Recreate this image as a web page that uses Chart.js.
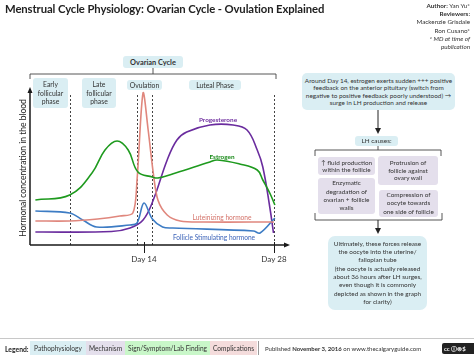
<!DOCTYPE html>
<html><head><meta charset="utf-8">
<script src="https://cdn.jsdelivr.net/npm/chart.js@4"></script>
<style>
body{margin:0;background:#fff;}
#wrap{position:relative;width:474px;height:355px;overflow:hidden;font-family:Lato,"Liberation Sans",sans-serif;color:#222;}
#wrap canvas{position:absolute;left:0;top:0;}
.a{position:absolute;white-space:nowrap;}
.c{position:absolute;white-space:nowrap;transform:translate(-50%,-50%);}
.box{position:absolute;box-sizing:border-box;border-radius:3px;display:flex;align-items:center;justify-content:center;text-align:center;white-space:nowrap;color:#333;}
.blue{background:#daeef3;}
.lav{background:#e4dfec;}
svg{position:absolute;left:0;top:0;}
</style></head>
<body>
<div id="wrap">
<canvas id="c" width="474" height="355"></canvas>
<svg width="474" height="355">
 <defs><marker id="ah" markerWidth="6" markerHeight="6" refX="3" refY="3" orient="auto"><path d="M0,0 L6,3 L0,6 z" fill="#222"/></marker></defs>
 <g stroke="#444" stroke-width="0.9" fill="none">
  <path d="M30,79 L30,74 L276,74 L276,79 M153,74 L153,68"/>
  <path d="M315,156 L315,150 L441,150 L441,156 M378,150 L378,145.5"/>
  <path d="M315,213 L315,220 L442,220 L442,213"/>
 </g>
 <g stroke="#222" stroke-width="1">
  <line x1="378" y1="110" x2="378" y2="131" marker-end="url(#ah)"/>
  <line x1="378" y1="220" x2="378" y2="231" marker-end="url(#ah)"/>
 </g>
 <line x1="0" y1="338.5" x2="474" y2="338.5" stroke="#c8c8c8" stroke-width="1"/>
</svg>

<div class="a" style="left:5px;top:2px;font-size:11.3px;font-weight:bold;color:#222;letter-spacing:-0.1px">Menstrual Cycle Physiology: Ovarian Cycle - Ovulation Explained</div>
<div class="a" style="right:4px;top:2px;font-size:6.3px;line-height:8.2px;text-align:right;color:#333">
<b>Author:</b> Yan Yu*<br><b>Reviewers:</b><br>Mackenzie Grisdale<br>Ron Cusano*<br><i>* MD at time of</i><br><i>publication</i></div>

<div class="c" style="left:23px;top:168px;transform:translate(-50%,-50%) rotate(-90deg);font-size:8.5px;color:#222">Hormonal concentration in the blood</div>

<div class="box blue" style="left:123px;top:56px;width:60px;height:12px;font-size:7.4px;font-weight:bold">Ovarian Cycle</div>
<div class="box blue" style="left:33px;top:78px;width:35px;height:30px;font-size:6.8px;line-height:8.7px">Early<br>follicular<br>phase</div>
<div class="box blue" style="left:82px;top:78px;width:34px;height:30px;font-size:6.8px;line-height:8.7px">Late<br>follicular<br>phase</div>
<div class="box blue" style="left:127px;top:80px;width:35px;height:10px;font-size:6.8px">Ovulation</div>
<div class="box blue" style="left:189px;top:80px;width:52px;height:10px;font-size:6.8px">Luteal Phase</div>

<div class="c" style="left:218px;top:119px;font-size:6.4px;font-weight:bold;color:#7030a0">Progesterone</div>
<div class="c" style="left:222px;top:156px;font-size:6.4px;font-weight:bold;color:#1a8a1a">Estrogen</div>
<div class="c" style="left:222px;top:217px;font-size:6.6px;color:#d4736a">Luteinizing hormone</div>
<div class="c" style="left:214px;top:237px;font-size:6.6px;color:#3a62b8">Follicle Stimulating hormone</div>

<div class="box blue" style="left:302px;top:73px;width:153px;height:37px;font-size:6.4px;line-height:7.2px;border-radius:5px">Around Day 14, estrogen exerts sudden +++ positive<br>feedback on the anterior pituitary (switch from<br>negative to positive feedback poorly understood) →<br>surge in LH production and release</div>
<div class="box blue" style="left:355px;top:136px;width:43px;height:9.5px;font-size:6.4px">LH causes:</div>
<div class="box lav" style="left:318px;top:157px;width:57px;height:18px;font-size:6.4px;line-height:7.4px">↑ fluid production<br>within the follicle</div>
<div class="box lav" style="left:378px;top:156px;width:60px;height:29px;font-size:6.4px;line-height:7.4px">Protrusion of<br>follicle against<br>ovary wall</div>
<div class="box lav" style="left:318px;top:178px;width:57px;height:36px;font-size:6.4px;line-height:8.3px">Enzymatic<br>degradation of<br>ovarian + follicle<br>walls</div>
<div class="box lav" style="left:379px;top:190px;width:59px;height:27px;font-size:6.4px;line-height:8.6px">Compression of<br>oocyte towards<br>one side of follicle</div>
<div class="box blue" style="left:328px;top:236px;width:99px;height:74px;font-size:6.4px;line-height:8.3px;border-radius:7px">Ultimately, these forces release<br>the oocyte into the uterine/<br>fallopian tube<br>(the oocyte is actually released<br>about 36 hours after LH surges,<br>even though it is commonly<br>depicted as shown in the graph<br>for clarity)</div>

<div class="a" style="left:5px;top:343px;font-size:6.8px;font-weight:bold;line-height:12px">Legend:</div>
<div class="box" style="left:30px;top:341px;width:56px;height:14px;font-size:6.6px;background:#daeef3;border-radius:0">Pathophysiology</div>
<div class="box" style="left:86px;top:341px;width:39px;height:14px;font-size:6.6px;background:#e4dfec;border-radius:0">Mechanism</div>
<div class="box" style="left:125px;top:341px;width:85px;height:14px;font-size:6.6px;background:#c9f7c9;border-radius:0">Sign/Symptom/Lab Finding</div>
<div class="box" style="left:210px;top:341px;width:47px;height:14px;font-size:6.6px;background:#f4dcdc;border-radius:0">Complications</div>
<div class="a" style="left:258px;top:341px;width:0;height:14px;border-left:1px solid #999"></div>
<div class="a" style="left:265px;top:343px;font-size:6px;line-height:12px;color:#333">Published <b>November 3, 2016</b> on www.thecalgaryguide.com</div>
<div class="a" style="left:442px;top:343px;width:34px;height:11px;background:#222;border-radius:2px;color:#fff;font-size:6px;line-height:11px;text-align:left;padding-left:2px;font-weight:bold">cc ⓘ⊜$</div>
</div>
<script>
// Days (x) and relative hormone levels (y)
const estrogenDay   = [2.3, 6.0, 8.4, 9.8, 11.1, 12.3, 13.35, 14.9, 15.5, 17.4, 21.1, 21.9, 24.3, 26.2, 26.8, 27.55, 28.1];
const estrogenLevel = [45, 50, 72, 95, 104, 95, 73, 68, 67, 72, 83, 85, 81, 75, 65, 52, 40];
const lhDay   = [2.3, 6.0, 9.0, 11.4, 12.8, 13.25, 13.9, 14.45, 15.0, 15.5, 16.5, 17.9, 20.4, 28.0];
const lhLevel = [24, 24, 26, 29, 32, 65, 152, 115, 72, 45, 30, 24, 23, 23];
const fshDay   = [2.3, 6.0, 7.4, 8.9, 12.5, 13.25, 14.0, 14.9, 16.0, 17.1, 25.8, 26.5, 28.1];
const fshLevel = [34, 32, 25, 18, 20, 22, 42, 26, 18, 17, 14, 12, 27];
const progDay   = [2.3, 10.5, 12.5, 13.9, 15.0, 16.5, 17.55, 18.6, 21.1, 23.6, 25.1, 26.2, 26.8, 27.55, 27.95];
const progLevel = [13, 13.5, 17, 25, 45, 85, 105, 113, 120, 120, 115, 95, 78, 38, 12];
const phaseLines = [6.0, 13.28, 14.86, 28];
const dayTicks = [14, 28];

const pts = (xs, ys) => xs.map((d, i) => ({x: d, y: ys[i]}));

const overlay = {
  id: 'overlay',
  beforeDatasetsDraw(chart) {
    const {ctx, chartArea: a, scales: {x, y}} = chart;
    ctx.save();
    ctx.strokeStyle = '#444'; ctx.lineWidth = 1; ctx.setLineDash([2, 2]);
    phaseLines.forEach(d => {
      const px = Math.round(x.getPixelForValue(d)) + 0.5;
      ctx.beginPath(); ctx.moveTo(px, a.bottom); ctx.lineTo(px, y.getPixelForValue(152)); ctx.stroke();
    });
    ctx.restore();
  },
  afterDatasetsDraw(chart) {
    const {ctx, chartArea: a, scales: {x}} = chart;
    ctx.save();
    ctx.strokeStyle = '#1a1a1a'; ctx.fillStyle = '#1a1a1a'; ctx.lineWidth = 1.5;
    ctx.beginPath(); ctx.moveTo(a.left, a.bottom); ctx.lineTo(a.left, a.top + 4);
    ctx.moveTo(a.left, a.bottom); ctx.lineTo(a.right - 4, a.bottom); ctx.stroke();
    ctx.beginPath(); ctx.moveTo(a.left, a.top); ctx.lineTo(a.left - 2.5, a.top + 6); ctx.lineTo(a.left + 2.5, a.top + 6); ctx.fill();
    ctx.beginPath(); ctx.moveTo(a.right, a.bottom); ctx.lineTo(a.right - 6, a.bottom - 2.5); ctx.lineTo(a.right - 6, a.bottom + 2.5); ctx.fill();
    ctx.lineWidth = 1;
    dayTicks.forEach(d => {
      const px = Math.round(x.getPixelForValue(d)) + 0.5;
      ctx.beginPath(); ctx.moveTo(px, a.bottom - 3); ctx.lineTo(px, a.bottom + 8); ctx.stroke();
    });
    ctx.restore();
  }
};

const ds = (label, xs, ys, color, tension) => ({
  label, data: pts(xs, ys), borderColor: color, borderWidth: 1.6,
  pointRadius: 0, tension, fill: false
});

new Chart(document.getElementById('c'), {
  type: 'line',
  data: {
    datasets: [
      ds('Estrogen', estrogenDay, estrogenLevel, '#1e9a1e', 0.4),
      ds('Luteinizing hormone', lhDay, lhLevel, '#e0877d', 0.3),
      ds('Follicle Stimulating hormone', fshDay, fshLevel, '#3d7cc4', 0.35),
      ds('Progesterone', progDay, progLevel, '#6a2c9e', 0.4)
    ]
  },
  options: {
    responsive: false, animation: false, devicePixelRatio: 1,
    layout: {padding: {left: 30, top: 87, right: 184, bottom: 80}},
    plugins: {legend: {display: false}, tooltip: {enabled: false}},
    scales: {
      x: {
        type: 'linear', min: 1.72, max: 29.73,
        grid: {display: false, drawTicks: false}, border: {display: false},
        afterBuildTicks: s => { s.ticks = dayTicks.map(v => ({value: v})); },
        afterFit: s => { s.height = 30; },
        ticks: {callback: v => 'Day ' + v, font: {size: 8, family: 'Lato'}, color: '#333', padding: 10, maxRotation: 0, autoSkip: false}
      },
      y: {display: false, min: 0, max: 158}
    }
  },
  plugins: [overlay]
});
</script>
</body></html>
